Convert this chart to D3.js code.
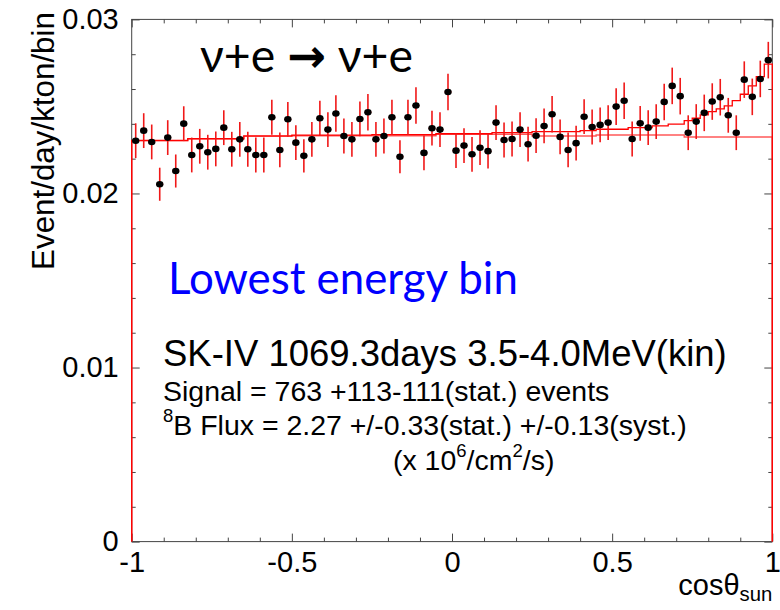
<!DOCTYPE html>
<html>
<head>
<meta charset="utf-8">
<script src="https://cdn.jsdelivr.net/npm/d3@7"></script>
<style>
  html, body { margin: 0; padding: 0; background: #fff; }
  svg { display: block; }
</style>
</head>
<body>
<div id="chart"></div>
<script>
// event rate per cos(theta_sun) bin, 80 bins from -1 to 1
const rate = [
  0.02303, 0.02361, 0.02296, 0.02053, 0.02321, 0.02129, 0.02401, 0.02221, 0.02271, 0.02237,
  0.02256, 0.02378, 0.02254, 0.02311, 0.02254, 0.02221, 0.02221, 0.02438, 0.02250, 0.02426,
  0.02292, 0.02216, 0.02311, 0.02432, 0.02367, 0.02459, 0.02330, 0.02311, 0.02428, 0.02467,
  0.02311, 0.02330, 0.02438, 0.02211, 0.02438, 0.02505, 0.02233, 0.02375, 0.02367, 0.02583,
  0.02246, 0.02275, 0.02225, 0.02263, 0.02243, 0.02407, 0.02307, 0.02313, 0.02367, 0.02283,
  0.02332, 0.02388, 0.02455, 0.02325, 0.02250, 0.02289, 0.02441, 0.02382, 0.02394, 0.02407,
  0.02499, 0.02533, 0.02313, 0.02403, 0.02378, 0.02413, 0.02526, 0.02618, 0.02559, 0.02349,
  0.02413, 0.02463, 0.02528, 0.02553, 0.02449, 0.02349, 0.02654, 0.02555, 0.02658, 0.02766
];

// statistical error per bin
const rateErr = [
  0.00100, 0.00100, 0.00100, 0.00095, 0.00100, 0.00095, 0.00100, 0.00100, 0.00100, 0.00100,
  0.00100, 0.00100, 0.00100, 0.00100, 0.00100, 0.00100, 0.00100, 0.00100, 0.00100, 0.00100,
  0.00100, 0.00095, 0.00100, 0.00100, 0.00100, 0.00105, 0.00100, 0.00100, 0.00100, 0.00105,
  0.00100, 0.00100, 0.00100, 0.00095, 0.00100, 0.00105, 0.00100, 0.00100, 0.00100, 0.00105,
  0.00100, 0.00100, 0.00100, 0.00100, 0.00100, 0.00100, 0.00100, 0.00100, 0.00100, 0.00100,
  0.00100, 0.00100, 0.00105, 0.00100, 0.00100, 0.00100, 0.00100, 0.00100, 0.00100, 0.00100,
  0.00105, 0.00105, 0.00100, 0.00100, 0.00100, 0.00100, 0.00105, 0.00105, 0.00105, 0.00100,
  0.00100, 0.00105, 0.00105, 0.00105, 0.00100, 0.00100, 0.00105, 0.00105, 0.00105, 0.00105
];

// background-only histogram
const bgFit = [
  0.02303, 0.02303, 0.02303, 0.02303, 0.02303, 0.02303, 0.02303, 0.02313, 0.02313, 0.02313,
  0.02313, 0.02313, 0.02313, 0.02313, 0.02328, 0.02328, 0.02328, 0.02328, 0.02328, 0.02328,
  0.02332, 0.02332, 0.02332, 0.02332, 0.02332, 0.02332, 0.02332, 0.02332, 0.02332, 0.02332,
  0.02332, 0.02332, 0.02332, 0.02332, 0.02332, 0.02332, 0.02332, 0.02332, 0.02340, 0.02340,
  0.02340, 0.02340, 0.02340, 0.02340, 0.02340, 0.02340, 0.02340, 0.02340, 0.02340, 0.02340,
  0.02330, 0.02330, 0.02330, 0.02330, 0.02330, 0.02330, 0.02330, 0.02330, 0.02336, 0.02336,
  0.02336, 0.02336, 0.02336, 0.02336, 0.02336, 0.02336, 0.02336, 0.02336, 0.02336, 0.02324,
  0.02324, 0.02324, 0.02324, 0.02324, 0.02324, 0.02324, 0.02324, 0.02324, 0.02324, 0.02324
];

// signal + background histogram
const totalFit = [
  0.02305, 0.02305, 0.02305, 0.02305, 0.02305, 0.02305, 0.02305, 0.02315, 0.02315, 0.02315,
  0.02315, 0.02315, 0.02315, 0.02315, 0.02331, 0.02331, 0.02331, 0.02331, 0.02331, 0.02331,
  0.02335, 0.02335, 0.02335, 0.02335, 0.02335, 0.02335, 0.02335, 0.02335, 0.02335, 0.02335,
  0.02338, 0.02338, 0.02338, 0.02338, 0.02338, 0.02338, 0.02338, 0.02338, 0.02343, 0.02343,
  0.02343, 0.02343, 0.02343, 0.02343, 0.02343, 0.02349, 0.02349, 0.02349, 0.02349, 0.02349,
  0.02355, 0.02355, 0.02355, 0.02355, 0.02355, 0.02355, 0.02361, 0.02361, 0.02369, 0.02369,
  0.02369, 0.02369, 0.02378, 0.02378, 0.02378, 0.02388, 0.02388, 0.02398, 0.02398, 0.02418,
  0.02432, 0.02451, 0.02470, 0.02486, 0.02503, 0.02533, 0.02570, 0.02618, 0.02671, 0.02743
];

const xTicks = [-1, -0.5, 0, 0.5, 1];
const yTicks = [0, 0.01, 0.02, 0.03];

const width = 780, height = 610;
const plotLeft = 131.7, plotRight = 772.3, plotTop = 19.4, plotBottom = 541.6;
const fontMain = "'Liberation Sans', Arial, Helvetica, sans-serif";
const frameColor = "#444";

const svg = d3.select("#chart").append("svg")
  .attr("width", width)
  .attr("height", height);

const x = d3.scaleLinear().domain([-1, 1]).range([plotLeft, plotRight]);
const y = d3.scaleLinear().domain([0, 0.03]).range([plotBottom, plotTop]);

// bin edges of the 80-bin histogram
const nBins = rate.length;
const edges = d3.range(nBins + 1).map(i => -1 + 2 * i / nBins);
const centers = d3.range(nBins).map(i => (edges[i] + edges[i + 1]) / 2);

// frame
svg.append("rect")
  .attr("x", x(-1)).attr("y", y(0.03))
  .attr("width", x(1) - x(-1)).attr("height", y(0) - y(0.03))
  .attr("fill", "none")
  .attr("stroke", frameColor)
  .attr("stroke-width", 1);

// ticks (inward, ROOT style)
const minorX = d3.range(-9, 10).map(d => d / 10).filter(d => Math.abs(d * 2 - Math.round(d * 2)) > 1e-6);
const minorY = d3.range(1, 15).map(d => d * 0.002).filter(d => Math.abs(d * 100 - Math.round(d * 100)) > 1e-6);

function styleAxis(g) {
  g.select(".domain").remove();
  g.selectAll("line").attr("stroke", frameColor);
  g.selectAll("text")
    .style("font-family", fontMain)
    .style("font-size", "29px")
    .attr("fill", "#000");
}

const fmtX = d => String(d);
const fmtY = d => d === 0 ? "0" : d.toFixed(2);

svg.append("g").attr("transform", `translate(0,${plotBottom})`)
  .call(d3.axisBottom(x).tickValues(xTicks).tickSize(-8).tickPadding(10).tickFormat(fmtX))
  .call(styleAxis);
svg.append("g").attr("transform", `translate(0,${plotBottom})`)
  .call(d3.axisBottom(x).tickValues(minorX).tickSize(-4).tickFormat(""))
  .call(styleAxis);
svg.append("g").attr("transform", `translate(0,${plotTop})`)
  .call(d3.axisTop(x).tickValues(xTicks).tickSize(-8).tickFormat(""))
  .call(styleAxis);
svg.append("g").attr("transform", `translate(0,${plotTop})`)
  .call(d3.axisTop(x).tickValues(minorX).tickSize(-4).tickFormat(""))
  .call(styleAxis);

svg.append("g").attr("transform", `translate(${plotLeft},0)`)
  .call(d3.axisLeft(y).tickValues(yTicks).tickSize(-8).tickPadding(13).tickFormat(fmtY))
  .call(styleAxis);
svg.append("g").attr("transform", `translate(${plotLeft},0)`)
  .call(d3.axisLeft(y).tickValues(minorY).tickSize(-4).tickFormat(""))
  .call(styleAxis);
svg.append("g").attr("transform", `translate(${plotRight},0)`)
  .call(d3.axisRight(y).tickValues(yTicks).tickSize(-8).tickFormat(""))
  .call(styleAxis);
svg.append("g").attr("transform", `translate(${plotRight},0)`)
  .call(d3.axisRight(y).tickValues(minorY).tickSize(-4).tickFormat(""))
  .call(styleAxis);

// step histograms
function stepPoints(vals) {
  const pts = [[edges[0], 0]];
  vals.forEach((v, i) => {
    pts.push([edges[i], v]);
    pts.push([edges[i + 1], v]);
  });
  pts.push([edges[nBins], 0]);
  return pts;
}

const stepLine = d3.line().x(d => x(d[0])).y(d => y(d[1]));

svg.append("path")
  .datum(stepPoints(bgFit))
  .attr("d", stepLine)
  .attr("fill", "none")
  .attr("stroke", "#ff2020")
  .attr("stroke-opacity", 0.75)
  .attr("stroke-width", 1.4);

svg.append("path")
  .datum(stepPoints(totalFit))
  .attr("d", stepLine)
  .attr("fill", "none")
  .attr("stroke", "#ff0000")
  .attr("stroke-width", 1.3);

// data points with error bars
const pts = svg.append("g").selectAll("g.pt")
  .data(rate.map((v, i) => ({ c: centers[i], v: v, e: rateErr[i], lo: edges[i], hi: edges[i + 1] })))
  .join("g")
  .attr("class", "pt");

pts.append("line")
  .attr("x1", d => x(d.c)).attr("x2", d => x(d.c))
  .attr("y1", d => y(d.v - d.e)).attr("y2", d => y(d.v + d.e))
  .attr("stroke", "#f01818")
  .attr("stroke-width", 1.6);

pts.append("line")
  .attr("x1", d => x(d.lo) + 0.5).attr("x2", d => x(d.hi) - 0.5)
  .attr("y1", d => y(d.v)).attr("y2", d => y(d.v))
  .attr("stroke", "#f01818")
  .attr("stroke-width", 1.2);

pts.append("ellipse")
  .attr("cx", d => x(d.c))
  .attr("cy", d => y(d.v))
  .attr("rx", 3.7)
  .attr("ry", 3.3)
  .attr("fill", "#000");

// scale a text element's font so its width matches the reference
function fitWidth(sel, w) {
  const cur = sel.node().getComputedTextLength();
  const fs = parseFloat(sel.style("font-size"));
  sel.style("font-size", (fs * w / cur) + "px");
  return sel;
}

// axis titles
const yTitle = svg.append("text")
  .attr("transform", "translate(54,141) rotate(-90)")
  .attr("text-anchor", "middle")
  .style("font-family", fontMain)
  .style("font-size", "30px")
  .text("Event/day/kton/bin");
fitWidth(yTitle, 258);

const xTitle = svg.append("text")
  .attr("x", plotRight)
  .attr("y", 595)
  .attr("text-anchor", "end")
  .style("font-family", fontMain)
  .style("font-size", "29px");
xTitle.append("tspan").text("cosθ");
xTitle.append("tspan").attr("dy", "0.3em").style("font-size", "0.7em").text("sun");

// reaction label
const react = svg.append("text")
  .attr("x", 200)
  .attr("y", 72)
  .style("font-family", "Lato, 'Open Sans', sans-serif")
  .style("font-size", "40px")
  .attr("fill", "#000");
react.append("tspan").text("ν+e ");
react.append("tspan").style("font-family", "'DejaVu Sans', sans-serif").style("font-weight", "bold").text("→");
react.append("tspan").text(" ν+e");
fitWidth(react, 213);

// energy bin label
const lowest = svg.append("text")
  .attr("x", 168)
  .attr("y", 294)
  .style("font-family", "Lato, 'Open Sans', sans-serif")
  .style("font-size", "36px")
  .attr("fill", "#0000ff")
  .text("Lowest energy bin");
fitWidth(lowest, 350);

// fit result block
const line1 = svg.append("text")
  .attr("x", 163).attr("y", 366)
  .style("font-family", fontMain)
  .style("font-size", "36px")
  .text("SK-IV 1069.3days 3.5-4.0MeV(kin)");
fitWidth(line1, 564);

// superscript: small raised tspan; the following tspan drops back to the baseline
function sup(textSel, s) {
  textSel.append("tspan").attr("dy", "-0.7em").style("font-size", "0.65em").text(s);
}
function afterSup(textSel, s) {
  textSel.append("tspan").attr("dy", "0.455em").text(s);
}

const line3 = svg.append("text")
  .attr("x", 163).attr("y", 435)
  .style("font-family", fontMain)
  .style("font-size", "28px");
sup(line3, "8");
afterSup(line3, "B Flux = 2.27 +/-0.33(stat.) +/-0.13(syst.)");
fitWidth(line3, 524);
const smallSize = line3.style("font-size");

svg.append("text")
  .attr("x", 163).attr("y", 401)
  .style("font-family", fontMain)
  .style("font-size", smallSize)
  .text("Signal = 763 +113-111(stat.) events");

const line4 = svg.append("text")
  .attr("x", 393).attr("y", 470)
  .style("font-family", fontMain)
  .style("font-size", smallSize);
line4.append("tspan").text("(x 10");
sup(line4, "6");
afterSup(line4, "/cm");
sup(line4, "2");
afterSup(line4, "/s)");
</script>
</body>
</html>
